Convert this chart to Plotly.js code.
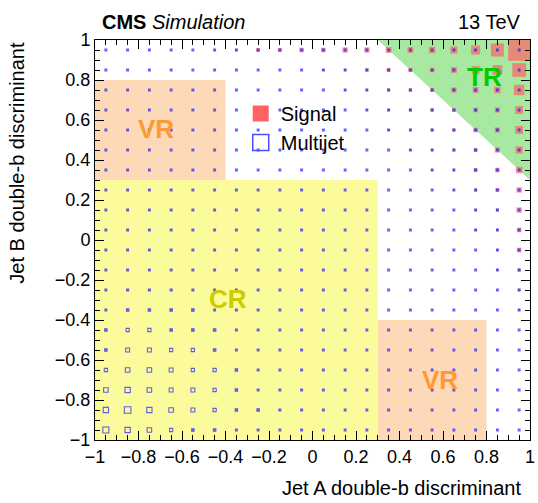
<!DOCTYPE html>
<html>
<head>
<meta charset="utf-8">
<script src="https://cdn.plot.ly/plotly-3.0.1.min.js"></script>
<style>html,body{margin:0;padding:0;background:#fff;}#chart{width:538px;height:503px;}</style>
</head>
<body>
<div id="chart"></div>
<script>
// Bin centres (20 x 20 bins from -1 to 1)
const binCenters = [-0.95,-0.85,-0.75,-0.65,-0.55,-0.45,-0.35,-0.25,-0.15,-0.05,0.05,0.15,0.25,0.35,0.45,0.55,0.65,0.75,0.85,0.95];

// Signal bin contents (arbitrary units), rows from jet B = -0.95 (bottom) to 0.95 (top)
const signalRows = [
  [0,0,0,0,0,0,0,0,0,0,0,0,0,0,0,0,0,0,0,0],
  [0,0,0,0,0,0,0,0,0,0,0,0,0,0,0,0,0,0,0,0],
  [0,0,0,0,0,0,0,0,0,0,0,0,0,0,0,0,0,0,0,0],
  [0,0,0,0,0,0,0,0,0,0,0,0,0,0,0,0,0,0,0,0],
  [0,0,0,0,0,0,0,0,0,0,0,0,0,0,0,0,0,0,0,0],
  [0,0,0,0,0,0,0,0,0,0,0,0,0,0,0,0,0,0,0,0],
  [0,0,0,0,0,0,0,0,0,0,0,0,0,0,0,0,0,0,0,9],
  [0,0,0,0,0,0,0,0,0,0,0,0,0,0,0,0,0,0,0,12],
  [0,0,0,0,0,0,0,0,0,0,0,0,0,0,0,0,0,0,9,15],
  [0,0,0,0,0,0,0,0,0,0,0,0,0,0,0,0,0,0,9,21],
  [0,0,0,0,0,0,0,0,0,0,0,0,0,0,0,0,0,9,11,21],
  [0,0,0,0,0,0,0,0,0,0,0,0,0,0,0,0,0,11,14,24],
  [0,0,0,0,0,0,0,0,0,0,0,0,0,0,0,0,9,14,18,24],
  [0,0,0,0,0,0,0,0,0,0,0,0,0,0,0,9,11,18,21,30],
  [0,0,0,0,0,0,0,0,0,0,0,0,0,0,9,11,14,18,24,33],
  [0,0,0,0,0,0,0,0,0,0,0,0,0,9,11,14,15,21,24,36],
  [0,0,0,0,0,0,0,0,0,0,0,0,9,11,14,16,18,21,24,36],
  [0,0,0,0,0,0,0,0,0,0,0,9,11,14,16,18,24,27,30,48],
  [0,0,0,0,0,0,0,0,0,0,9,11,16,18,19,21,27,36,45,63],
  [0,0,0,0,0,7,11,18,18,21,21,24,24,27,27,30,33,42,60,100]
];

// Multijet bin contents (arbitrary units)
const multijetRows = [
  [92,82,73,55,45,45,37,37,36,36,35,34,33,33,32,32,31,31,30,30],
  [82,100,82,73,64,55,45,45,40,38,36,35,34,33,32,32,31,31,30,30],
  [73,82,73,64,64,55,45,37,38,37,36,35,34,33,32,32,31,31,30,30],
  [55,73,73,64,55,55,45,37,37,37,36,35,34,33,32,32,31,31,30,30],
  [45,64,64,55,55,45,37,37,36,36,35,34,33,33,32,31,31,30,30,30],
  [45,55,55,45,45,45,37,37,36,35,35,34,33,32,32,31,31,30,30,30],
  [37,45,45,45,45,37,37,37,35,35,34,33,33,32,31,31,30,30,30,30],
  [37,40,40,40,38,37,36,35,34,34,33,33,32,31,31,30,30,30,29,29],
  [36,38,38,37,37,36,35,34,34,33,33,32,32,31,30,30,30,29,29,29],
  [35,37,37,36,36,35,34,34,33,33,32,32,31,31,30,30,29,29,29,29],
  [34,36,36,35,35,34,34,33,33,32,32,31,31,30,30,29,29,29,29,28],
  [34,35,35,34,34,34,33,33,32,32,31,31,30,30,29,29,29,28,28,28],
  [33,34,34,34,33,33,33,32,32,31,31,30,30,29,29,29,28,28,28,28],
  [33,33,33,33,33,32,32,32,31,31,30,30,29,29,29,28,28,28,28,28],
  [32,33,33,32,32,32,31,31,31,30,30,29,29,29,28,28,28,28,28,28],
  [32,32,32,32,31,31,31,30,30,30,29,29,29,28,28,28,28,28,28,28],
  [31,32,32,31,31,31,30,30,30,29,29,29,28,28,28,28,28,28,28,28],
  [31,31,31,31,30,30,30,30,29,29,29,28,28,28,28,28,28,28,28,28],
  [30,31,31,30,30,30,29,29,29,29,28,28,28,28,28,28,28,28,28,28],
  [30,30,30,30,30,29,29,29,29,28,28,28,28,28,28,28,28,28,28,28]
];

// Analysis regions
const regionNames = ['CR','VR','VR'];
const regionX0 = [-1.0,-1.0,0.3];
const regionX1 = [0.3,-0.4,0.8];
const regionY0 = [-1.0,0.3,-1.0];
const regionY1 = [0.3,0.8,-0.4];
const regionFill = ['#fbfb9c','#fdd9b7','#fdd9b7'];
const trCorners = [[0.3,1.0],[1.0,1.0],[1.0,0.3]];
const labelText = ['VR','CR','VR','TR'];
const labelX = [-0.72,-0.39,0.585,0.79];
const labelY = [0.555,-0.295,-0.70,0.815];
const labelColor = ['#ff9933','#cccc00','#ff9933','#00cc00'];

// Drawing scale: a full cell is ~21.75 px wide in this 435 px plot
const cellPx = 21.75;
const signalMax = 100;
const multijetMaxPx = 7.6;

const sx=[], sy=[], ss=[], mx=[], my=[], ms=[], mfill=[];
for (let j=0;j<binCenters.length;j++){
  for (let i=0;i<binCenters.length;i++){
    const sv = signalRows[j][i];
    if (sv>0){ sx.push(binCenters[i]); sy.push(binCenters[j]); ss.push(sv/signalMax*cellPx); }
    const mv = multijetRows[j][i];
    if (mv>0){
      const side = Math.max(mv/100*multijetMaxPx-1,1.8);
      mx.push(binCenters[i]); my.push(binCenters[j]); ms.push(side);
      mfill.push(side<2.6 ? '#1f1fff' : 'rgba(0,0,0,0)');
    }
  }
}

const FONT = 'Liberation Sans, Arial, Helvetica, sans-serif';

const traces = [
  {type:'scatter', mode:'markers', x:sx, y:sy, showlegend:false, hoverinfo:'skip',
   marker:{symbol:'square', size:ss, color:'#ff6262', line:{width:0}}},
  {type:'scatter', mode:'markers', x:mx, y:my, showlegend:false, hoverinfo:'skip',
   marker:{symbol:'square', size:ms, color:mfill, line:{width:1.1, color:'#1f1fff'}}},
  {type:'scatter', mode:'markers', x:[null], y:[null], name:'Signal',
   marker:{symbol:'square', size:20, color:'#ff6262', line:{width:0}}},
  {type:'scatter', mode:'markers', x:[null], y:[null], name:'Multijet',
   marker:{symbol:'square-open', size:20, color:'#4a4aff', line:{width:1.5, color:'#4a4aff'}}}
];

const shapes = [];
for (let k=0;k<regionNames.length;k++){
  shapes.push({type:'rect', xref:'x', yref:'y', x0:regionX0[k], x1:regionX1[k], y0:regionY0[k], y1:regionY1[k],
    fillcolor:regionFill[k], line:{width:0}, layer:'below'});
}
shapes.push({type:'path', xref:'x', yref:'y',
  path:'M'+trCorners.map(p=>p[0]+','+p[1]).join(' L')+' Z', fillcolor:'#a8e9a1', line:{width:0}, layer:'below'});

const annotations = [];
for (let k=0;k<labelText.length;k++){
  annotations.push({xref:'x', yref:'y', x:labelX[k], y:labelY[k], text:'<b>'+labelText[k]+'</b>', showarrow:false,
    font:{family:FONT, size:26, color:labelColor[k]}, xanchor:'center', yanchor:'middle'});
}
annotations.push({xref:'paper', yref:'paper', x:0.012, y:1.012, xanchor:'left', yanchor:'bottom', showarrow:false,
  text:'<b>CMS</b> <i>Simulation</i>', font:{family:FONT, size:20, color:'#000'}});
annotations.push({xref:'paper', yref:'paper', x:0.984, y:1.012, xanchor:'right', yanchor:'bottom', showarrow:false,
  text:'13 TeV', font:{family:FONT, size:20, color:'#000'}});
annotations.push({xref:'paper', yref:'paper', x:0.985, y:-0.12, xanchor:'right', yanchor:'middle', showarrow:false,
  text:'Jet A double-b discriminant', font:{family:FONT, size:20, color:'#000'}});
annotations.push({xref:'paper', yref:'paper', x:-0.18, y:1.0, xanchor:'center', yanchor:'top', textangle:-90, showarrow:false,
  text:'Jet B double-b discriminant', font:{family:FONT, size:20, color:'#000'}});

const axisCommon = {
  range:[-1,1], dtick:0.2, tick0:-1, ticks:'inside', ticklen:9, tickwidth:1, tickcolor:'#000',
  showline:true, linecolor:'#000', linewidth:1, mirror:'allticks', showgrid:false, zeroline:false,
  tickfont:{family:FONT, size:18, color:'#000'}, fixedrange:true,
  minor:{dtick:0.05, tick0:-1, ticks:'inside', ticklen:5, tickcolor:'#000', tickwidth:1, showgrid:false}
};

const layout = {
  width:538, height:503,
  margin:{l:95, r:8, t:40, b:63},
  paper_bgcolor:'#fff', plot_bgcolor:'#fff',
  font:{family:FONT, color:'#000'},
  xaxis:Object.assign({}, axisCommon),
  yaxis:Object.assign({}, axisCommon),
  shapes:shapes,
  annotations:annotations,
  showlegend:true,
  legend:{x:0.335, y:0.865, xanchor:'left', yanchor:'top', bgcolor:'rgba(0,0,0,0)',
    font:{family:FONT, size:20, color:'#000'}, tracegroupgap:0, itemwidth:30}
};

Plotly.newPlot('chart', traces, layout, {staticPlot:true, displayModeBar:false});
</script>
</body>
</html>
